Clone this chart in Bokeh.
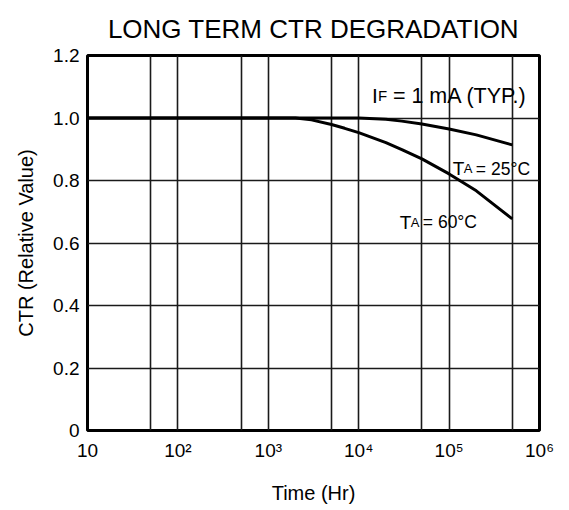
from bokeh.plotting import figure
from bokeh.models import Range1d, FixedTicker, Label
from bokeh.embed import file_html
from bokeh.resources import INLINE

# ---- data ----
hours = [10, 1000, 2000, 3000, 5000, 7000, 10000, 20000, 30000, 50000, 100000, 200000, 500000]
ctr_25c = [1.0, 1.0, 1.0, 1.0, 1.0, 1.0, 1.0, 0.996, 0.990, 0.981, 0.965, 0.946, 0.914]
ctr_60c = [1.0, 1.0, 1.0, 0.994, 0.979, 0.967, 0.953, 0.921, 0.899, 0.869, 0.821, 0.767, 0.677]

x_ticks = [10, 100, 1000, 10000, 100000, 1000000]
x_tick_labels = ["10", "10²", "10³", "10⁴", "10⁵", "10⁶"]
x_grid = [50, 100, 500, 1000, 5000, 10000, 50000, 100000, 500000]
y_ticks = [0, 0.2, 0.4, 0.6, 0.8, 1.0, 1.2]
y_tick_labels = ["0", "0.2", "0.4", "0.6", "0.8", "1.0", "1.2"]

TITLE = "LONG TERM CTR DEGRADATION"
FONT = "Liberation Sans"

p = figure(width=567, height=508, x_axis_type="log",
           x_range=Range1d(10, 1e6), y_range=Range1d(0, 1.2),
           output_backend="svg", toolbar_location=None,
           min_border_left=87, min_border_right=28,
           min_border_top=55, min_border_bottom=78,
           title=TITLE)

p.title.align = "center"
p.title.text_font = FONT
p.title.text_font_size = "26px"
p.title.text_font_style = "normal"
p.title.text_color = "black"
p.title.text_line_height = 1.0
p.title.standoff = 23

p.outline_line_color = "black"
p.outline_line_width = 3
p.outline_line_alpha = 1
p.background_fill_color = "white"
p.border_fill_color = "white"

# grid
p.xgrid.ticker = FixedTicker(ticks=x_grid)
p.ygrid.ticker = FixedTicker(ticks=y_ticks[1:-1])
for g in (p.xgrid, p.ygrid):
    g.grid_line_color = "#1a1a1a"
    g.grid_line_width = 1.6
    g.grid_line_alpha = 1

# axes
p.xaxis.ticker = FixedTicker(ticks=x_ticks)
p.xaxis.major_label_overrides = {float(t): l for t, l in zip(x_ticks, x_tick_labels)}
p.yaxis.ticker = FixedTicker(ticks=y_ticks)
p.yaxis.major_label_overrides = {float(t): l for t, l in zip(y_ticks, y_tick_labels)}

p.xaxis.axis_label = "Time (Hr)"
p.yaxis.axis_label = "CTR (Relative Value)"
for ax in (p.xaxis[0], p.yaxis[0]):
    ax.axis_line_color = None
    ax.major_tick_line_color = None
    ax.minor_tick_line_color = None
    ax.major_tick_out = 0
    ax.major_tick_in = 0
    ax.minor_tick_out = 0
    ax.major_label_text_font = FONT
    ax.major_label_text_font_size = "19px"
    ax.major_label_text_color = "black"
    ax.axis_label_text_font = FONT
    ax.axis_label_text_font_size = "20px"
    ax.axis_label_text_font_style = "normal"
    ax.axis_label_text_color = "black"
p.xaxis.major_label_standoff = 9
p.xaxis.axis_label_standoff = 18
p.yaxis.major_label_standoff = 8
p.yaxis.axis_label_standoff = 13

# curves
p.line(hours, ctr_25c, line_color="black", line_width=3)
p.line(hours, ctr_60c, line_color="black", line_width=3)

# annotations
def add_label(x, y, parts):
    for text, size, dx in parts:
        p.add_layout(Label(x=x, y=y, x_offset=dx, text=text,
                           text_font=FONT, text_font_size=size,
                           text_color="black", text_baseline="alphabetic",
                           text_align="left"))

add_label(14000, 1.072, [("I", "21px", 0), ("F", "15px", 6), ("= 1 mA (TYP.)", "21.5px", 21)])
add_label(110000, 0.837, [("T", "19px", 0), ("A", "13px", 11), ("= 25°C", "17.5px", 23)])
add_label(28500, 0.667, [("T", "19px", 0), ("A", "13px", 11), ("= 60°C", "17.5px", 23)])

open("out.html", "w").write(file_html(p, INLINE))
